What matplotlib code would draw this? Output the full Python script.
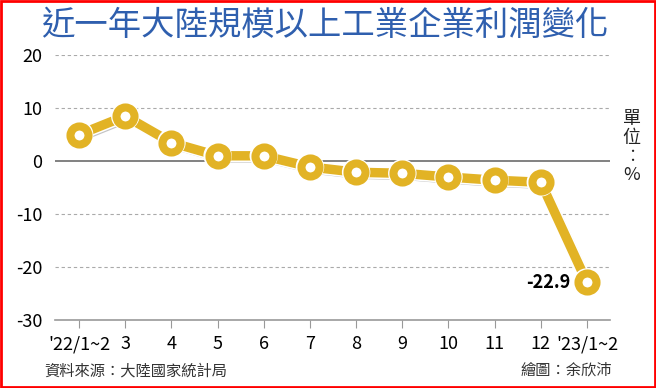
import matplotlib
matplotlib.use("Agg")
from matplotlib import pyplot as plt
from matplotlib import patheffects as pe
from matplotlib.patches import Rectangle

plt.rcParams['font.family'] = ['Noto Sans CJK TC', 'DejaVu Sans']

# 資料
months = ["'22/1~2", "3", "4", "5", "6", "7", "8", "9", "10", "11", "12", "'23/1~2"]
profit = [5.0, 8.5, 3.5, 1.0, 1.0, -1.1, -2.1, -2.3, -3.0, -3.6, -4.0, -22.9]
yticks = [20, 10, 0, -10, -20, -30]

gold = '#e2b325'
blue = '#2f5fae'

fig = plt.figure(figsize=(6.56, 3.88), dpi=100)
ax = fig.add_axes([0.084, 0.175, 0.846, 0.683])

x = list(range(len(months)))
ax.set_xlim(-0.52, len(months) - 0.5)
ax.set_ylim(-30, 20)

# 格線
for y in yticks:
    if y == 0:
        ax.axhline(y, color='#777777', lw=1.3, zorder=1)
    elif y != -30:
        ax.axhline(y, color='#aaaaaa', lw=0.8, ls=(0, (3, 2.5)), zorder=1)

shadow = [pe.SimpleLineShadow(offset=(1.5, -1.5), shadow_color='#888888', alpha=0.5),
          pe.Stroke(linewidth=9, foreground='white'), pe.Normal()]
ax.plot(x, profit, color=gold, lw=6.8, zorder=3, solid_capstyle='round',
        path_effects=shadow)
mshadow = [pe.SimpleLineShadow(offset=(1.5, -1.5), shadow_color='#888888', alpha=0.5),
           pe.Normal()]
ax.plot(x, profit, ls='none', marker='o', ms=20.5, mfc='white', mec='white', mew=0,
        zorder=4, path_effects=mshadow)
ax.plot(x, profit, ls='none', marker='o', ms=13, mfc='white', mec=gold, mew=5.8,
        zorder=5)

ax.text(x[-1] - 0.36, profit[-1], '%.1f' % profit[-1], ha='right', va='center',
        fontsize=13, fontweight='bold', color='black', zorder=6)

ax.set_xticks(x)
ax.set_xticklabels(months, fontsize=13)
ax.set_yticks(yticks)
ax.set_yticklabels([str(v) for v in yticks], fontsize=13)
ax.tick_params(axis='x', direction='out', length=6, color='#999999', pad=5)
ax.tick_params(axis='y', length=0, pad=9)
for s in ['top', 'right', 'left']:
    ax.spines[s].set_visible(False)
ax.spines['bottom'].set_color('#999999')
ax.spines['bottom'].set_linewidth(1.2)

fig.text(0.495, 0.935, '近一年大陸規模以上工業企業利潤變化', ha='center', va='center',
         fontsize=24, color=blue)
fig.text(0.963, 0.62, '單\n位\n︰\n%', ha='center', va='center', fontsize=13,
         color='#222222', linespacing=1.05)
fig.text(0.068, 0.045, '資料來源：大陸國家統計局', ha='left', va='center', fontsize=11,
         color='#333333')
fig.text(0.933, 0.045, '繪圖：余欣沛', ha='right', va='center', fontsize=11,
         color='#333333')

fig.patches.append(Rectangle((0.002, 0.003), 0.996, 0.994, transform=fig.transFigure,
                             fill=False, edgecolor='red', lw=2))

fig.savefig('out.png', dpi=100)
